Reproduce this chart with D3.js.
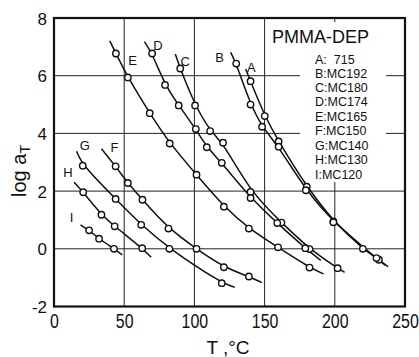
<!DOCTYPE html>
<html><head><meta charset="utf-8">
<script src="https://cdn.jsdelivr.net/npm/d3@7"></script>
<style>
html,body{margin:0;padding:0;background:#fff;}
svg{display:block;}
text{fill:#111;}
</style>
</head><body>
<svg id="c" width="419" height="357"></svg>
<script>
// ---- data (T in °C, log aT) ----
const curveIds = ["A","B","C","D","E","F","G","H","I"];
const legendTitle = "PMMA-DEP";
const legendLabels = ["A:  715","B:MC192","C:MC180","D:MC174","E:MC165","F:MC150","G:MC140","H:MC130","I:MC120"];
const xTickValues = [0,50,100,150,200,250];
const yTickValues = [-2,0,2,4,6,8];
const xGridValues = [50,100,150,200];
const yGridValues = [0,2,4,6];

// measured points per curve
const pointsA = [[140,5.81],[150.1,4.60],[160,3.72],[180,2.15],[199,0.95],[220,0.0],[231.4,-0.38]];
const pointsB = [[129.8,6.42],[140,5.0],[148.2,4.23],[160,3.54],[179.4,2.03],[199,0.92],[229.7,-0.32]];
const pointsC = [[89.9,6.25],[100.5,4.97],[111.2,4.08],[120.4,3.68],[140,1.97],[162,0.91],[182,-0.01],[202,-0.67]];
const pointsD = [[69.9,6.77],[79.1,5.68],[88.8,4.97],[101,4.15],[108.8,3.52],[119.5,2.98],[140,1.76],[159,0.89],[179,0.02]];
const pointsE = [[44.1,6.77],[52.6,5.94],[68.2,4.70],[82.4,3.65],[101.5,2.57],[121,1.46],[138.8,0.70],[159.6,0.05],[182,-0.65]];
const pointsF = [[43.9,2.86],[52.6,2.28],[63,1.70],[81.5,0.70],[101.5,0.0],[121,-0.64],[138.8,-0.96]];
const pointsG = [[20.5,2.88],[43.9,1.73],[62.1,0.83],[82.2,0.0],[119.5,-1.19]];
const pointsH = [[20.8,1.96],[33.8,1.18],[43.2,0.78],[62.8,0.02]];
const pointsI = [[25,0.64],[32.1,0.35],[42.7,0.0]];
// read ends of each drawn curve [start, end]
const curveEndsA = [[136.5,6.23],[238,-0.62]];
const curveEndsB = [[125.8,6.81],[236,-0.58]];
const curveEndsC = [[86.4,6.75],[207,-0.82]];
const curveEndsD = [[64.4,7.18],[190,-0.40]];
const curveEndsE = [[39.7,7.21],[192,-0.87]];
const curveEndsF = [[33.8,3.47],[148,-1.17]];
const curveEndsG = [[16.1,3.38],[128.7,-1.33]];
const curveEndsH = [[14.2,2.31],[69.2,-0.29]];
const curveEndsI = [[18.9,0.83],[48.6,-0.21]];
// label anchor positions (data coordinates)
const labelPos = [[140.5,6.3],[118,6.65],[93.5,6.5],[74,7.05],[56,6.55],[43,3.52],[22,3.6],[10,2.65],[12.5,1.1]];

const pointSets = [pointsA,pointsB,pointsC,pointsD,pointsE,pointsF,pointsG,pointsH,pointsI];
const endSets = [curveEndsA,curveEndsB,curveEndsC,curveEndsD,curveEndsE,curveEndsF,curveEndsG,curveEndsH,curveEndsI];

// ---- drawing ----
const svg = d3.select("#c");
const L=54, R=405, T=18, B=306.5;
const x = d3.scaleLinear().domain([0,250]).range([L,R]);
const y = d3.scaleLinear().domain([-2,8]).range([B,T]);
const FONT = "Liberation Sans, Arial, sans-serif";

// grid
svg.append("g").selectAll("line").data(xGridValues).join("line")
  .attr("x1",d=>x(d)).attr("x2",d=>x(d)).attr("y1",T).attr("y2",B)
  .attr("stroke","#222").attr("stroke-width",1);
svg.append("g").selectAll("line").data(yGridValues).join("line")
  .attr("x1",L).attr("x2",R).attr("y1",d=>y(d)).attr("y2",d=>y(d))
  .attr("stroke","#222").attr("stroke-width",1);

// legend background (white block over grid)
svg.append("rect").attr("x",300).attr("y",22).attr("width",86).attr("height",160).attr("fill","#fff");

// curves
const line = d3.line().x(d=>x(d[0])).y(d=>y(d[1])).curve(d3.curveBasis);
curveIds.forEach((id,i)=>{
  const pts = [endSets[i][0], ...pointSets[i], endSets[i][1]];
  svg.append("path").attr("d",line(pts)).attr("fill","none")
    .attr("stroke","#111").attr("stroke-width",1.5);
});
curveIds.forEach((id,i)=>{
  svg.append("g").selectAll("circle").data(pointSets[i]).join("circle")
    .attr("cx",d=>x(d[0])).attr("cy",d=>y(d[1])).attr("r",3.2)
    .attr("fill","#fff").attr("stroke","#111").attr("stroke-width",1.4);
});
// curve labels
svg.append("g").selectAll("text").data(curveIds).join("text")
  .attr("x",(d,i)=>x(labelPos[i][0])).attr("y",(d,i)=>y(labelPos[i][1]))
  .attr("text-anchor","middle").attr("dy","0.36em")
  .style("font-family",FONT).style("font-size","13px")
  .text(d=>d);

// frame
svg.append("rect").attr("x",L).attr("y",T).attr("width",R-L).attr("height",B-T)
  .attr("fill","none").attr("stroke","#111").attr("stroke-width",2.2);

// axes tick labels
const xAxis = svg.append("g").attr("transform",`translate(0,${B})`)
  .call(d3.axisBottom(x).tickValues(xTickValues).tickSize(0).tickFormat(d=>String(d)));
xAxis.select(".domain").remove();
xAxis.selectAll("text").attr("y",21.5).attr("dy",null)
  .attr("transform","scale(0.76,1)")
  .style("font-family",FONT).style("font-size","21px").attr("fill","#111");
const yAxis = svg.append("g").attr("transform",`translate(${L},0)`)
  .call(d3.axisLeft(y).tickValues(yTickValues).tickSize(0).tickFormat(d=>String(d)));
yAxis.select(".domain").remove();
yAxis.selectAll("text").attr("x",-7).attr("dy","6px")
  .style("font-family",FONT).style("font-size","17px").attr("fill","#111");

// axis titles
const yt = svg.append("text").attr("transform","translate(26,171) rotate(-90)")
  .attr("text-anchor","middle")
  .style("font-family",FONT).style("font-size","20px");
yt.append("tspan").text("log a");
yt.append("tspan").attr("dy","4").style("font-size","14px").text("T");
svg.append("text").attr("x",228).attr("y",354).attr("text-anchor","middle")
  .style("font-family",FONT).style("font-size","19px")
  .text("T ,°C");

// legend
svg.append("text").attr("x",272).attr("y",43)
  .style("font-family",FONT).style("font-size","18px")
  .text(legendTitle);
const legendY = [59.5,73.5,87.5,102,116.5,131,145.5,160,174.5];
svg.append("g").selectAll("text").data(legendLabels).join("text")
  .attr("x",315).attr("y",(d,i)=>legendY[i]+4.3)
  .style("font-family",FONT).style("font-size","12.5px")
  .attr("xml:space","preserve").style("white-space","pre")
  .text(d=>d);
</script>
</body></html>
